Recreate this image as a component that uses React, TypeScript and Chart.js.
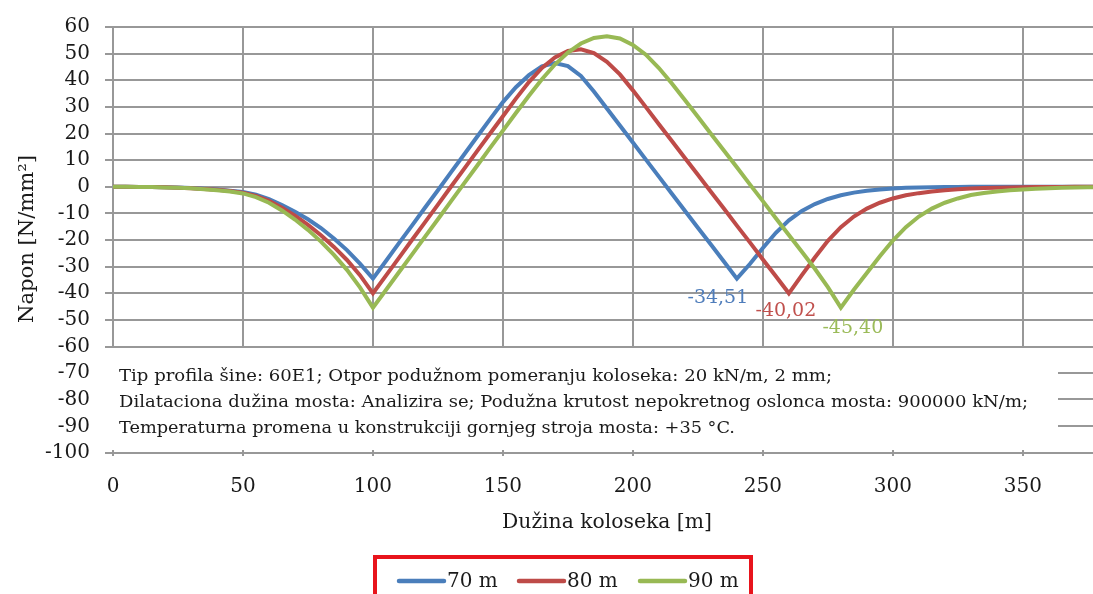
import React, { useEffect, useRef } from "react";
import { Chart, registerables } from "chart.js";

Chart.register(...registerables);

// ---- data ----
const distance = [
  0, 5, 10, 15, 20, 25, 30, 35, 40, 45, 50, 55, 60, 65, 70, 75, 80, 85, 90, 95,
  100, 105, 110, 115, 120, 125, 130, 135, 140, 145, 150, 155, 160, 165, 170, 175,
  180, 185, 190, 195, 200, 205, 210, 215, 220, 225, 230, 235, 240, 245, 250, 255,
  260, 265, 270, 275, 280, 285, 290, 295, 300, 305, 310, 315, 320, 325, 330, 335,
  340, 345, 350, 355, 360, 365, 370, 375, 380,
];

const stress70 = [
  0, 0, -0.05, -0.1, -0.2, -0.3, -0.5, -0.75, -1.05, -1.5, -2.0, -3.0, -4.6, -6.9, -9.4, -12.2, -15.5, -19.4, -23.8, -28.9,
  -34.51, -27.9, -21.2, -14.6, -7.9, -1.3, 5.4, 12.0, 18.7, 25.3, 31.8, 37.4, 41.9, 45.2, 46.5, 45.3,
  41.6, 35.8, 29.4, 23.0, 16.6, 10.2, 3.8, -2.6, -9.0, -15.4, -21.7, -28.1, -34.51, -29.0, -23.0, -17.3,
  -12.6, -9.1, -6.5, -4.6, -3.2, -2.2, -1.5, -1.0, -0.65, -0.42, -0.27, -0.17, -0.1, -0.06, -0.03, -0.02,
  -0.01, 0, 0, 0, 0, 0, 0, 0, 0,
];

const stress80 = [
  0, 0, -0.05, -0.1, -0.2, -0.35, -0.55, -0.8, -1.15, -1.6, -2.2, -3.4, -5.3, -7.9, -10.9, -14.3, -18.2, -22.6, -27.5, -33.2,
  -40.02, -33.4, -26.7, -20.0, -13.4, -6.7, 0.0, 6.6, 13.3, 19.9, 26.5, 33.1, 39.3, 44.6, 48.6, 51.0,
  51.6, 50.2, 46.9, 42.2, 36.2, 29.9, 23.5, 17.2, 10.8, 4.5, -1.9, -8.2, -14.6, -20.9, -27.3, -33.6,
  -40.02, -33.2, -26.6, -20.3, -15.2, -11.2, -8.2, -6.0, -4.4, -3.2, -2.4, -1.8, -1.3, -0.95, -0.7, -0.5,
  -0.35, -0.25, -0.17, -0.12, -0.08, -0.05, -0.03, -0.02, -0.01,
];

const stress90 = [
  0, 0, -0.05, -0.12, -0.25, -0.4, -0.6, -0.9, -1.3, -1.8, -2.5, -3.9, -6.0, -8.9, -12.3, -16.2, -20.6, -25.6, -31.2, -37.8,
  -45.4, -38.8, -32.1, -25.5, -18.8, -12.2, -5.5, 1.2, 7.8, 14.5, 21.1, 27.7, 34.2, 40.4, 45.9, 50.4,
  53.8, 55.9, 56.5, 55.7, 53.3, 49.6, 44.6, 38.8, 32.6, 26.3, 19.9, 13.6, 7.3, 0.9, -5.4, -11.8,
  -18.1, -24.4, -30.8, -37.7, -45.4, -38.7, -32.4, -26.1, -20.2, -15.2, -11.2, -8.2, -6.0, -4.4, -3.1, -2.35,
  -1.75, -1.3, -1.0, -0.75, -0.55, -0.4, -0.3, -0.22, -0.16,
];

const seriesNames = ["70 m", "80 m", "90 m"];
const seriesColors = ["#4a7ebb", "#be4b48", "#98b954"];
const labelColors = ["#4f7dbb", "#c0504d", "#9bbb59"];
const minimumX = [240, 260, 280];
const minimumY = [-34.51, -40.02, -45.4];
const minimumText = ["-34,51", "-40,02", "-45,40"];

const yMin = -100;
const yMax = 60;
const yStep = 10;
const gridFloor = -60;
const xMin = 0;
const xMax = 377;
const xStep = 50;

const xTitle = "Dužina koloseka [m]";
const yTitle = "Napon [N/mm²]";
const noteLines = [
  "Tip profila šine: 60E1; Otpor podužnom pomeranju koloseka: 20 kN/m, 2 mm;",
  "Dilataciona dužina mosta: Analizira se; Podužna krutost nepokretnog oslonca mosta: 900000 kN/m;",
  "Temperaturna promena u konstrukciji gornjeg stroja mosta: +35 °C.",
];

// ---- styles ----
const SERIF = '"DejaVu Serif", "Liberation Serif", serif';
const GRID = "#989898";
const TEXT = "#1a1a1a";

function fitText(ctx: CanvasRenderingContext2D, text: string, left: number, baseline: number, width: number) {
  const w = ctx.measureText(text).width;
  const s = width / w;
  ctx.save();
  ctx.translate(left, baseline);
  ctx.scale(s, 1);
  ctx.textAlign = "left";
  ctx.textBaseline = "alphabetic";
  ctx.fillText(text, 0, 0);
  ctx.restore();
}

const decorPlugin = {
  id: "decor",
  beforeDatasetsDraw(chart: any) {
    const { ctx, scales } = chart;
    const x = scales.x;
    const y = scales.y;
    const yTop = y.getPixelForValue(yMax);
    const yBot = y.getPixelForValue(gridFloor);
    const yAxis = y.getPixelForValue(yMin);
    ctx.save();
    ctx.strokeStyle = GRID;
    ctx.lineWidth = 2;
    x.ticks.forEach((t: any) => {
      const px = Math.round(x.getPixelForValue(t.value));
      ctx.beginPath();
      ctx.moveTo(px, yTop);
      ctx.lineTo(px, yBot);
      ctx.stroke();
      ctx.beginPath();
      ctx.moveTo(px, yAxis - 3);
      ctx.lineTo(px, yAxis + 3);
      ctx.stroke();
    });
    ctx.restore();
  },
  afterDraw(chart: any) {
    const { ctx, scales } = chart;
    const x = scales.x;
    const y = scales.y;
    ctx.save();

    // note block
    ctx.fillStyle = TEXT;
    ctx.font = `17px ${SERIF}`;
    const noteWidths = [713, 909, 616];
    const noteBase = [381, 407, 433];
    noteLines.forEach((line, i) => fitText(ctx, line, 119, noteBase[i], noteWidths[i]));

    // short grey stubs at the right edge
    ctx.strokeStyle = GRID;
    ctx.lineWidth = 2;
    [373, 399, 426].forEach((py) => {
      ctx.beginPath();
      ctx.moveTo(1058, py);
      ctx.lineTo(1093, py);
      ctx.stroke();
    });

    // axis titles
    ctx.fillStyle = TEXT;
    ctx.font = `20px ${SERIF}`;
    fitText(ctx, xTitle, 502, 528, 210);
    ctx.save();
    ctx.font = `21px ${SERIF}`;
    ctx.translate(33, 323);
    ctx.rotate(-Math.PI / 2);
    fitText(ctx, yTitle, 0, 0, 168);
    ctx.restore();

    // minimum labels
    const offs = [
      [-19, 24.5],
      [-3, 23],
      [12, 25.5],
    ];
    ctx.font = `19px ${SERIF}`;
    ctx.textAlign = "center";
    ctx.textBaseline = "alphabetic";
    minimumText.forEach((t, i) => {
      const px = x.getPixelForValue(minimumX[i]);
      const py = y.getPixelForValue(minimumY[i]);
      ctx.fillStyle = labelColors[i];
      ctx.fillText(t, px + offs[i][0], py + offs[i][1]);
    });

    // legend
    ctx.strokeStyle = "#e8141c";
    ctx.lineWidth = 4;
    ctx.strokeRect(375, 557, 376, 60);
    const itemX = [397, 517, 638];
    const lineY = 581;
    ctx.font = `20px ${SERIF}`;
    ctx.textAlign = "left";
    chart.data.datasets.forEach((ds: any, i: number) => {
      ctx.strokeStyle = ds.borderColor;
      ctx.lineWidth = 4.5;
      ctx.lineCap = "round";
      ctx.beginPath();
      ctx.moveTo(itemX[i] + 2, lineY);
      ctx.lineTo(itemX[i] + 47, lineY);
      ctx.stroke();
      ctx.fillStyle = TEXT;
      ctx.fillText(ds.label, itemX[i] + 50, 587);
    });

    ctx.restore();
  },
};

export default function App() {
  const ref = useRef<HTMLCanvasElement | null>(null);

  useEffect(() => {
    if (!ref.current) return;
    const series = [stress70, stress80, stress90];
    const chart = new Chart(ref.current, {
      type: "line",
      data: {
        datasets: series.map((s, i) => ({
          label: seriesNames[i],
          data: distance.map((d, k) => ({ x: d, y: s[k] })),
          borderColor: seriesColors[i],
          backgroundColor: seriesColors[i],
          borderWidth: 4,
          pointRadius: 0,
          tension: 0,
          fill: false,
          order: 2 - i,
        })),
      },
      options: {
        animation: false,
        responsive: false,
        devicePixelRatio: 1,
        layout: { padding: { left: 0, right: 0, top: 24, bottom: 0 } },
        plugins: {
          legend: { display: false },
          tooltip: { enabled: false },
          title: { display: false },
        },
        scales: {
          x: {
            type: "linear",
            min: xMin,
            max: xMax,
            afterFit: (s: any) => {
              s.height = 141;
            },
            grid: { display: false, drawTicks: false },
            border: { display: false },
            ticks: {
              stepSize: xStep,
              includeBounds: false,
              autoSkip: false,
              padding: 22,
              color: TEXT,
              font: { family: SERIF, size: 20 },
              maxRotation: 0,
            },
          },
          y: {
            type: "linear",
            min: yMin,
            max: yMax,
            afterFit: (s: any) => {
              s.width = 113;
            },
            grid: {
              color: (c: any) =>
                c.tick && (c.tick.value >= gridFloor || c.tick.value === yMin) ? GRID : "rgba(0,0,0,0)",
              lineWidth: 2,
              tickLength: 8,
              drawTicks: true,
            },
            border: { display: false },
            ticks: {
              stepSize: yStep,
              autoSkip: false,
              padding: 15,
              color: TEXT,
              font: { family: SERIF, size: 20 },
            },
          },
        },
      },
      plugins: [decorPlugin],
    });
    return () => chart.destroy();
  }, []);

  return (
    <div style={{ position: "fixed", left: 0, top: 0, width: 1093, height: 594, background: "#fff" }}>
      <canvas ref={ref} width={1093} height={594} />
    </div>
  );
}
